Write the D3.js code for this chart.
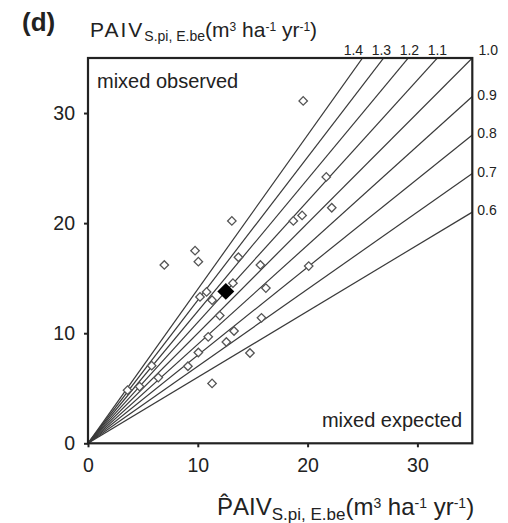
<!DOCTYPE html>
<html>
<head>
<meta charset="utf-8">
<script src="https://cdn.jsdelivr.net/npm/d3@7/dist/d3.min.js"></script>
<style>
  body { margin: 0; background: #fff; }
  text { font-family: "Liberation Sans", Arial, sans-serif; fill: #222; }
</style>
</head>
<body>
<svg id="chart" width="508" height="523"></svg>
<script>
// Expected (x) and observed (y) productivity of mixed stands, one point per plot
const expectedValues = [19.6, 13.1, 9.75, 10.05, 6.95, 13.7, 15.7, 21.7, 18.7, 19.5, 22.2, 20.1,
  16.2, 13.2, 10.2, 10.8, 11.3, 12.0, 15.8, 13.3, 10.95, 12.6, 10.05, 9.1, 14.75, 11.3,
  5.8, 6.4, 4.7, 3.6];
const observedValues = [31.1, 20.2, 17.5, 16.5, 16.2, 16.9, 16.2, 24.2, 20.2, 20.7, 21.4, 16.1,
  14.1, 14.55, 13.3, 13.75, 13.0, 11.6, 11.4, 10.2, 9.67, 9.2, 8.25, 7.0, 8.2, 5.44,
  7.05, 5.97, 5.15, 4.83];
// Mean over all plots
const meanPoint = [12.55, 13.8];

// Ratio lines (observed / expected)
const ratios = [0.6, 0.7, 0.8, 0.9, 1.0, 1.1, 1.2, 1.3, 1.4];
const ratioLabels = ["0.6", "0.7", "0.8", "0.9", "1.0", "1.1", "1.2", "1.3", "1.4"];

const tickValues = [0, 10, 20, 30];
const axisMax = 35;

const svg = d3.select("#chart");
const mLeft = 88, mRight = 472.3, mTop = 58, mBottom = 443.3;

const x = d3.scaleLinear().domain([0, axisMax]).range([mLeft, mRight]);
const y = d3.scaleLinear().domain([0, axisMax]).range([mBottom, mTop]);

svg.append("defs").append("clipPath").attr("id", "plotClip")
  .append("rect").attr("x", mLeft).attr("y", mTop)
  .attr("width", mRight - mLeft).attr("height", mBottom - mTop);

// Ratio lines through the origin
svg.append("g").attr("clip-path", "url(#plotClip)")
  .selectAll("line").data(ratios).join("line")
  .attr("x1", x(0)).attr("y1", y(0))
  .attr("x2", x(axisMax)).attr("y2", r => y(axisMax * r))
  .attr("stroke", "#3a3a3a").attr("stroke-width", 1.2);

// Ratio labels: evenly spaced above the frame for r > 1, corner for 1.0, right edge for r < 1
const labelStep = 28;
svg.append("g").selectAll("text").data(ratios.filter(r => r > 1)).join("text")
  .attr("x", r => x(axisMax / 1.1) - Math.round((r - 1.1) * 10) * labelStep)
  .attr("y", mTop - 3)
  .attr("text-anchor", "middle")
  .attr("font-size", 14)
  .text(r => ratioLabels[ratios.indexOf(r)]);
svg.append("text")
  .attr("x", mRight + 16).attr("y", mTop - 3)
  .attr("text-anchor", "middle").attr("font-size", 14)
  .text(ratioLabels[ratios.indexOf(1.0)]);
svg.append("g").selectAll("text").data(ratios.filter(r => r < 1)).join("text")
  .attr("x", mRight + 5)
  .attr("y", r => y(axisMax * r) + 3)
  .attr("font-size", 14)
  .text(r => ratioLabels[ratios.indexOf(r)]);

// Frame
svg.append("rect")
  .attr("x", mLeft).attr("y", mTop)
  .attr("width", mRight - mLeft).attr("height", mBottom - mTop)
  .attr("fill", "none").attr("stroke", "#222").attr("stroke-width", 2.2);

// Axes
const xAxis = d3.axisBottom(x).tickValues(tickValues).tickSize(4).tickPadding(11);
const yAxis = d3.axisLeft(y).tickValues(tickValues).tickSize(4).tickPadding(9);
const gx = svg.append("g").attr("transform", `translate(0,${mBottom})`).call(xAxis);
const gy = svg.append("g").attr("transform", `translate(${mLeft},0)`).call(yAxis);
[gx, gy].forEach(g => {
  g.select(".domain").remove();
  g.selectAll(".tick line").attr("stroke", "#222").attr("stroke-width", 2);
  g.selectAll(".tick text").attr("font-size", 19.5).attr("fill", "#222")
    .style("font-family", "Liberation Sans, Arial, sans-serif");
});

// Data points: hollow diamonds
const pts = expectedValues.map((v, i) => [v, observedValues[i]]);
svg.append("g").selectAll("rect").data(pts).join("rect")
  .attr("x", -3).attr("y", -3).attr("width", 6).attr("height", 6)
  .attr("transform", d => `translate(${x(d[0])},${y(d[1])}) rotate(45)`)
  .attr("fill", "#fff").attr("stroke", "#555").attr("stroke-width", 1.3);

// Mean: filled diamond
svg.append("rect")
  .attr("x", -6).attr("y", -6).attr("width", 12).attr("height", 12)
  .attr("transform", `translate(${x(meanPoint[0])},${y(meanPoint[1])}) rotate(45)`)
  .attr("fill", "#000");

// Corner annotations
svg.append("text").attr("x", 97).attr("y", 88).attr("font-size", 20).text("mixed observed");
svg.append("text").attr("x", 462).attr("y", 427).attr("text-anchor", "end")
  .attr("font-size", 20).text("mixed expected");

// Panel letter
svg.append("text").attr("x", 22).attr("y", 31).attr("font-size", 26)
  .attr("font-weight", "bold").text("(d)");

// Axis titles with sub/superscripts
function unitTitle(sel, head, headSpacing, sub, sup, shift) {
  sel.append("tspan").attr("letter-spacing", headSpacing).text(head);
  sel.append("tspan").attr("font-size", sub).attr("dy", shift).text("S.pi, E.be");
  sel.append("tspan").attr("dy", -shift).text("(m");
  sel.append("tspan").attr("font-size", sup).attr("dy", -shift - 2).text("3");
  sel.append("tspan").attr("dy", shift + 2).text(" ha");
  sel.append("tspan").attr("font-size", sup).attr("dy", -shift - 2).text("-1");
  sel.append("tspan").attr("dy", shift + 2).text(" yr");
  sel.append("tspan").attr("font-size", sup).attr("dy", -shift - 2).text("-1");
  sel.append("tspan").attr("dy", shift + 2).text(")");
}
svg.append("text").attr("x", 90).attr("y", 37).attr("font-size", 21)
  .call(unitTitle, "PAIV", 2, 14, 12, 4);
svg.append("text").attr("x", 217).attr("y", 515).attr("font-size", 24)
  .call(unitTitle, "P\u0302AIV", 0, 17, 14, 5);
</script>
</body>
</html>
